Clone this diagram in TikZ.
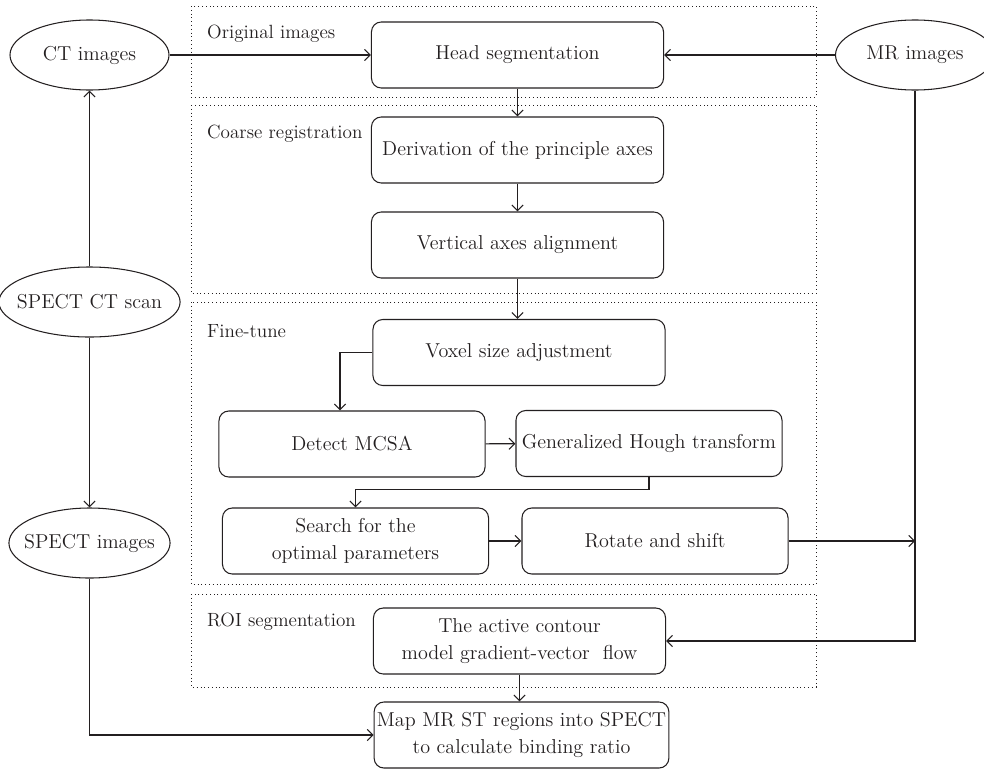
\documentclass[tikz,border=0pt]{standalone}
\usepackage{fontspec}
\usetikzlibrary{shapes.geometric,arrows.meta}
\definecolor{flowink}{RGB}{35,31,32}

\begin{document}
\begin{tikzpicture}[x=0.025cm, y=-0.025cm, line width=0.75pt, flowink,
    font=\fontsize{14.3}{19.5}\selectfont,
    procbox/.style={draw, rounded corners=7pt, align=center, minimum height=1.65cm, inner sep=2pt},
    widebox/.style={procbox, minimum width=7.3cm},
    halfbox/.style={procbox, minimum width=6.65cm},
    imgnode/.style={draw, ellipse, minimum width=3.975cm, minimum height=1.75cm, inner xsep=-6pt, inner ysep=0pt},
    stage/.style={dotted, line width=0.7pt},
    stagelabel/.style={anchor=base west, font=\fontsize{13.6}{16}\selectfont},
    flow/.style={-{Straight Barb[length=4pt,width=8pt]}}]

            \useasboundingbox (0,0) rectangle (984,769);

            \draw[stage] (191,6) rectangle (816,97);
            \draw[stage] (191,105) rectangle (816,293);
            \draw[stage] (191,302) rectangle (816,584);
            \draw[stage] (191,594) rectangle (816,687);

            \node[stagelabel] (lblOrig) at (202,38) {Original images};
            \node[stagelabel] (lblCoarse) at (202,138) {Coarse registration};
            \node[stagelabel] (lblFine) at (202,337) {Fine-tune};
            \node[stagelabel] (lblRoi) at (202,626) {ROI segmentation};

            \node[imgnode] (ctImg) at (89.5,55) {CT images};
            \node[imgnode] (mrImg) at (915,55) {MR images};
            \node[imgnode] (spectScan) at (89.5,302) {SPECT CT scan};
            \node[imgnode] (spectImg) at (89.5,543) {SPECT images};

            \node[widebox] (headSeg) at (517.5,55) {Head segmentation};
            \node[widebox] (derivAxes) at (517.5,150) {Derivation of the principle axes};
            \node[widebox] (vertAlign) at (517.5,245) {Vertical axes alignment};
            \node[widebox] (voxelSize) at (519,352.5) {Voxel size adjustment};
            \node[halfbox] (detectMCSA) at (352,444) {Detect MCSA};
            \node[halfbox] (houghTr) at (649,443.5) {Generalized Hough transform};
            \node[halfbox] (searchOpt) at (355.5,541) {Search for the\\optimal parameters};
            \node[halfbox] (rotShift) at (655,541) {Rotate and shift};
            \node[widebox] (activeCont) at (519.5,641) {The active contour\\model gradient-vector~~flow};
            \node[widebox] (mapRatio) at (521.5,735) {Map MR ST regions into SPECT\\to calculate binding ratio};

            \draw[flow] (ctImg) -- (headSeg);
            \draw[flow] (mrImg) -- (headSeg);
            \draw[flow] (spectScan) -- (ctImg);
            \draw[flow] (spectScan) -- (spectImg);
            \draw[flow] (headSeg) -- (derivAxes);
            \draw[flow] (derivAxes) -- (vertAlign);
            \draw[flow] (vertAlign.south) -- (vertAlign.south |- voxelSize.north);
            \draw[flow] (voxelSize.west) -| ([xshift=-0.3cm]detectMCSA.north);
            \draw[flow] (detectMCSA) -- (houghTr);
            \draw[flow] (houghTr.south) -- ++(0,12) -| (searchOpt.north);
            \draw[flow] (searchOpt) -- (rotShift);
            \draw[flow] (rotShift.east) -- (rotShift.east -| mrImg.south);
            \draw[flow] (mrImg.south) |- (activeCont.east);
            \draw[flow] (activeCont.south) -- (activeCont.south |- mapRatio.north);
            \draw[flow] (spectImg.south) |- (mapRatio.west);

        \end{tikzpicture}
\end{document}
